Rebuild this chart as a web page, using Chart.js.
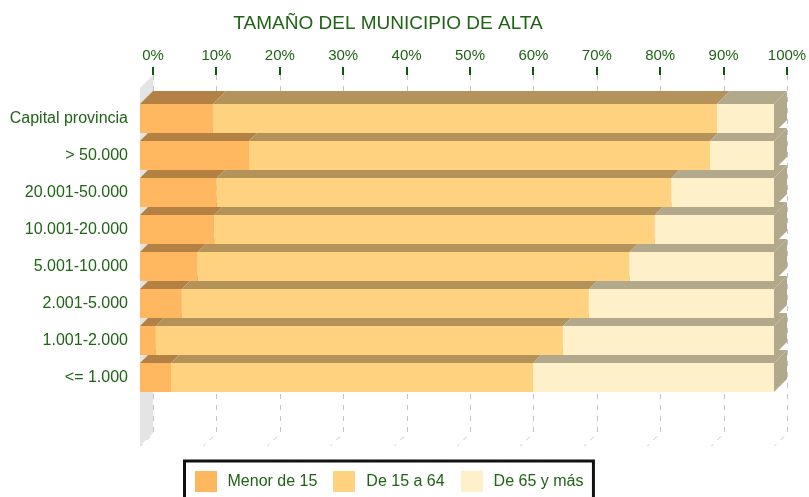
<!DOCTYPE html>
<html><head><meta charset="utf-8">
<script src="https://cdn.jsdelivr.net/npm/chart.js@4.4.0/dist/chart.umd.min.js"></script>
<style>html,body{margin:0;padding:0;background:#fff;overflow:hidden}#wrap{width:809px;height:497px;position:relative}</style>
</head><body><div id="wrap"><canvas id="c" width="809" height="497"></canvas></div>
<script>
const chartTitle = 'TAMAÑO DEL MUNICIPIO DE ALTA';
const categories = ['Capital provincia', '> 50.000', '20.001-50.000', '10.001-20.000', '5.001-10.000', '2.001-5.000', '1.001-2.000', '<= 1.000'];
const seriesNames = ['Menor de 15', 'De 15 a 64', 'De 65 y más'];
const menor15 = [11.5, 17.2, 12.1, 11.7, 9.1, 6.6, 2.5, 4.9];
const de15a64 = [79.5, 72.7, 71.7, 69.5, 68.1, 64.2, 64.2, 57.1];
const de65    = [9.0, 10.1, 16.2, 18.8, 22.8, 29.2, 33.3, 38.0];
const tickValues = [0, 10, 20, 30, 40, 50, 60, 70, 80, 90, 100];

const FONT = '"Liberation Sans", Arial, sans-serif';
const GREEN = '#1f6414';
const TICK_GREEN = '#0b5a0b';
const frontColors = ['#FFB860', '#FFD280', '#FEF0C8'];
const DEPTH = 13;
const CENTER_X = 388;

function shade(hex, f) {
  const n = parseInt(hex.slice(1), 16);
  const r = Math.round(((n >> 16) & 255) * f), g = Math.round(((n >> 8) & 255) * f), b = Math.round((n & 255) * f);
  return `rgb(${r},${g},${b})`;
}

const depthPlugin = {
  id: 'depth3d',
  beforeDatasetsDraw(chart) {
    const { ctx, chartArea: ca, scales: { x } } = chart;
    const d = DEPTH;
    const backTop = ca.top - 25, backBottom = ca.bottom + 37;
    const x0 = x.getPixelForValue(0);
    ctx.save();
    // left wall
    ctx.fillStyle = '#e4e4e4';
    ctx.beginPath();
    ctx.moveTo(x0, backTop + d); ctx.lineTo(x0 + d, backTop);
    ctx.lineTo(x0 + d, backBottom); ctx.lineTo(x0, backBottom + d);
    ctx.closePath(); ctx.fill();
    // grid lines on back plane + floor
    ctx.strokeStyle = '#c4c4c4'; ctx.lineWidth = 1; ctx.setLineDash([5, 6]);
    tickValues.forEach(v => {
      const xb = Math.round(x.getPixelForValue(v) + d) + 0.5;
      ctx.beginPath(); ctx.moveTo(xb, backTop); ctx.lineTo(xb, backBottom); ctx.lineTo(xb - d, backBottom + d); ctx.stroke();
    });
    ctx.setLineDash([]);
    // tick marks
    ctx.strokeStyle = TICK_GREEN; ctx.lineWidth = 2;
    tickValues.forEach(v => {
      const xb = Math.round(x.getPixelForValue(v) + d);
      ctx.beginPath(); ctx.moveTo(xb, backTop - 8); ctx.lineTo(xb, backTop); ctx.stroke();
    });
    // top and side faces
    const n = chart.data.datasets.length;
    chart.data.datasets.forEach((ds, i) => {
      const meta = chart.getDatasetMeta(i);
      const topColor = shade(ds.backgroundColor, 0.7);
      meta.data.forEach(el => {
        const p = el.getProps(['x', 'y', 'base', 'height'], true);
        const l = Math.min(p.x, p.base), r = Math.max(p.x, p.base);
        const t = p.y - p.height / 2, b = p.y + p.height / 2;
        ctx.fillStyle = topColor;
        ctx.beginPath();
        ctx.moveTo(l, t); ctx.lineTo(l + d, t - d); ctx.lineTo(r + d, t - d); ctx.lineTo(r, t);
        ctx.closePath(); ctx.fill();
        if (i === n - 1) {
          ctx.beginPath();
          ctx.moveTo(r, t); ctx.lineTo(r + d, t - d); ctx.lineTo(r + d, b - d); ctx.lineTo(r, b);
          ctx.closePath(); ctx.fill();
        }
      });
    });
    ctx.restore();
  },
  afterDraw(chart) {
    const { ctx, chartArea: ca } = chart;
    ctx.save();
    // title
    ctx.fillStyle = GREEN;
    ctx.font = `19px ${FONT}`;
    ctx.textAlign = 'center'; ctx.textBaseline = 'alphabetic';
    ctx.fillText(chartTitle, CENTER_X, ca.top - 71);
    // legend
    const ds = chart.data.datasets;
    ctx.font = `16px ${FONT}`;
    const widths = ds.map(s => ctx.measureText(s.label).width);
    const sw = 22, sh = 21, gap = 11, itemGap = 16, pad = 10;
    const total = pad * 2 + widths.reduce((a, w) => a + sw + gap + w, 0) + itemGap * (ds.length - 1);
    const bx = Math.round(CENTER_X - total / 2) + 0.5, by = ca.bottom + 65;
    ctx.fillStyle = '#fff'; ctx.fillRect(bx, by, total, 60);
    ctx.strokeStyle = '#111'; ctx.lineWidth = 3; ctx.strokeRect(bx, by, total, 60);
    let cx = bx + pad;
    ctx.textAlign = 'left'; ctx.textBaseline = 'middle';
    ds.forEach((s, i) => {
      ctx.fillStyle = s.backgroundColor;
      ctx.fillRect(Math.round(cx), by + 10, sw, sh);
      ctx.fillStyle = GREEN;
      ctx.fillText(s.label, cx + sw + gap, by + 21);
      cx += sw + gap + widths[i] + itemGap;
    });
    ctx.restore();
  }
};

const seriesValues = [menor15, de15a64, de65];
new Chart(document.getElementById('c'), {
  type: 'bar',
  data: {
    labels: categories,
    datasets: seriesNames.map((name, i) => ({
      label: name,
      data: seriesValues[i],
      backgroundColor: frontColors[i],
      borderWidth: 0,
      barPercentage: 0.784,
      categoryPercentage: 1
    }))
  },
  options: {
    indexAxis: 'y',
    responsive: false,
    animation: false,
    devicePixelRatio: 1,
    layout: { padding: { left: 0, top: 0, right: 35, bottom: 101 } },
    plugins: { legend: { display: false }, title: { display: false }, tooltip: { enabled: false } },
    scales: {
      x: {
        type: 'linear', position: 'top', stacked: true, min: 0, max: 100,
        ticks: { stepSize: 10, callback: v => v + '%', labelOffset: DEPTH, padding: 35, color: GREEN, font: { size: 15, family: FONT }, maxRotation: 0 },
        grid: { display: false, drawTicks: false },
        border: { display: false },
        afterFit: s => { s.height = 100; s.paddingLeft = 0; s.paddingRight = 0; }
      },
      y: {
        stacked: true,
        ticks: { padding: 12, color: GREEN, font: { size: 16, family: FONT } },
        grid: { display: false, drawTicks: false },
        border: { display: false },
        afterFit: s => { s.width = 140; s.paddingTop = 0; s.paddingBottom = 0; }
      }
    }
  },
  plugins: [depthPlugin]
});
</script></body></html>
